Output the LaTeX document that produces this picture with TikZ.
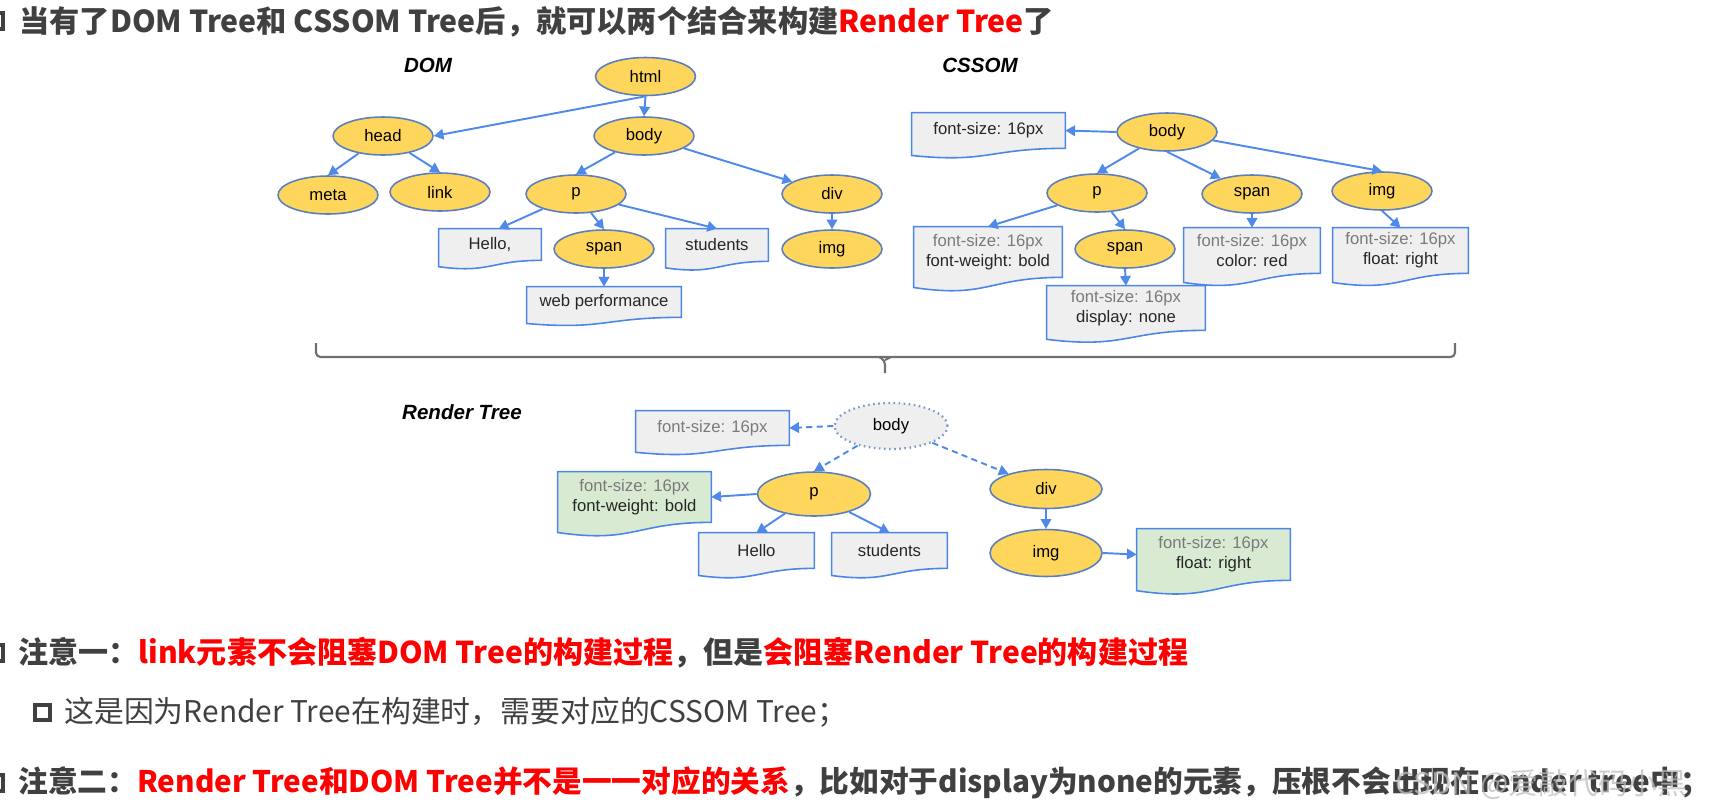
\documentclass[tikz,border=0pt]{standalone}
\usepackage{fontspec}
\newfontfamily\arialf{Liberation Sans}
\newfontfamily\cjkf{Noto Sans CJK SC}
\usetikzlibrary{shapes.geometric,arrows.meta,calc,backgrounds}
\definecolor{ellyellow}{HTML}{FFD65C}
\definecolor{ellborder}{HTML}{5B7FBE}
\definecolor{boxblue}{HTML}{4A86E8}
\definecolor{arrblue}{HTML}{4F8AEA}
\definecolor{boxgray}{HTML}{EFEFEF}
\definecolor{boxgreen}{HTML}{D9EAD3}
\definecolor{graytext}{HTML}{7A7A7A}
\definecolor{darktext}{HTML}{404040}
\definecolor{bracegray}{HTML}{707070}
\definecolor{wmgray}{HTML}{BDBDBD}
\newcommand{\dgmfont}{\arialf\fontsize{9.5}{11.3}\selectfont}
\newcommand{\gl}[1]{\textcolor{graytext}{#1}}
\begin{document}
\begin{tikzpicture}[x=0.02cm,y=-0.02cm,
  ell/.style={ellipse, draw=ellborder, line width=0.9pt, fill=ellyellow,
    minimum width=2cm, minimum height=0.76cm, inner sep=0, font=\dgmfont},
  doc/.style={rectangle, inner sep=0, align=center, font=\dgmfont, text=black!85},
  dsz/.style 2 args={minimum width=#1*0.02cm, minimum height=#2*0.02cm},
  arr/.style={draw=arrblue, line width=1.1pt, -{Triangle[length=5.5pt,width=6pt]}},
  darr/.style={arr, dash pattern=on 3.5pt off 2.5pt},
  lbl/.style={font=\arialf\bfseries\itshape\fontsize{11.7}{14}\selectfont},
  txt/.style={anchor=west, inner sep=0, font=\cjkf\fontsize{17}{20}\selectfont, text=darktext},
  btxt/.style={txt, font=\cjkf\bfseries\fontsize{17}{20}\selectfont},
  docshape/.style={draw=boxblue, line width=0.9pt, fill=#1},
  bracestyle/.style={bracegray, line width=1.2pt, rounded corners=2.5pt}
]
\useasboundingbox (0,0) rectangle (1724,806);

% ---------- title ----------
\draw[darktext, line width=2pt] (-14,13) rectangle (3,29);
\node[btxt, font=\cjkf\bfseries\fontsize{17.2}{20}\selectfont] (title) at (19,22)
  {当有了DOM Tree和 CSSOM Tree后，就可以两个结合来构建\textcolor{red}{Render Tree}了};

% ---------- labels ----------
\node[lbl] (ldom) at (428,65) {DOM};
\node[lbl] (lcssom) at (980,65) {CSSOM};
\node[lbl] (lrender) at (462,412) {Render Tree};

% ---------- DOM ----------
\node[ell] (html) at (645.5,76.5) {html};
\node[ell] (head) at (383,136) {head};
\node[ell] (body) at (644,136) {body};
\node[ell] (meta) at (328,195) {meta};
\node[ell] (link) at (440,192) {link};
\node[ell] (p) at (576,194) {p};
\node[ell] (span) at (604,249) {span};
\node[ell] (div) at (832,194) {div};
\node[ell] (img) at (832,249) {img};
\node[doc, dsz={102}{31}] (hello) at (490,244.5) {Hello,};
\node[doc, dsz={102}{32}] (students) at (717,245) {students};
\node[doc, dsz={154}{30}] (webperf) at (604,302) {web performance};

% ---------- CSSOM ----------
\node[ell] (cbody) at (1167,132) {body};
\node[ell] (cp) at (1097,193) {p};
\node[ell] (cspan) at (1125,249) {span};
\node[ell] (cspan2) at (1252,194) {span};
\node[ell] (cimg) at (1382,191) {img};
\node[doc, dsz={153}{35}] (cfs) at (988.5,130.5) {font-size: 16px};
\node[doc, dsz={148}{50}] (cpbox) at (988,252) {\gl{font-size: 16px}\\font-weight: bold};
\node[doc, dsz={158}{44}] (cdisp) at (1126,308) {\gl{font-size: 16px}\\display: none};
\node[doc, dsz={136}{45}] (ccolor) at (1252,250.5) {\gl{font-size: 16px}\\color: red};
\node[doc, dsz={135}{45}] (cfloat) at (1400.5,250.5) {\gl{font-size: 16px}\\float: right};

% ---------- Render tree ----------
\node[ell, fill=boxgray, draw=ellborder!80, dotted, line width=1.3pt,
  minimum width=2.26cm, minimum height=0.92cm] (rbody) at (891,426) {body};
\node[ell, minimum width=2.26cm, minimum height=0.88cm] (rp) at (814,494) {p};
\node[ell, minimum width=2.24cm, minimum height=0.78cm] (rdiv) at (1046,489) {div};
\node[ell, minimum width=2.24cm, minimum height=0.94cm] (rimg) at (1046,553) {img};
\node[doc, dsz={153}{34}] (rfs) at (712.5,428) {\gl{font-size: 16px}};
\node[doc, dsz={153}{50}] (rgreen) at (634.5,497) {\gl{font-size: 16px}\\font-weight: bold};
\node[doc, dsz={115}{35}] (rhello) at (756.5,550.5) {Hello};
\node[doc, dsz={115}{35}] (rstudents) at (889.5,550.5) {students};
\node[doc, dsz={153}{51}] (rfloat) at (1213.5,554.5) {\gl{font-size: 16px}\\float: right};

% ---------- document shapes (behind text) ----------
\begin{pgfonlayer}{background}
\foreach \nm/\fc in {hello/boxgray, students/boxgray, webperf/boxgray,
  cfs/boxgray, cpbox/boxgray, cdisp/boxgray, ccolor/boxgray, cfloat/boxgray,
  rfs/boxgray, rgreen/boxgreen, rhello/boxgray, rstudents/boxgray, rfloat/boxgreen}{
  \path[docshape=\fc] let \p1=(\nm.north west), \p2=(\nm.south east), \n1={\y1-\y2} in
    (\p1) -- (\x2,\y1) -- (\p2)
    .. controls ({(\x1+\x2)/2},\y2) and ({(\x1+\x2)/2},{\y2-0.42*\n1}) ..
    (\x1,{\y2-0.2*\n1}) -- cycle;
}
\end{pgfonlayer}

% ---------- DOM edges ----------
\draw[arr] (html.south) -- (head.east);
\draw[arr] (html.south) -- (body.north);
\draw[arr] (head) -- (meta.north);
\draw[arr] (head) -- (link.north);
\draw[arr] (body) -- (p.north);
\draw[arr] (body) -- (div);
\draw[arr] (p) -- ([xshift=5pt]hello.north);
\draw[arr] (p) -- (span.north);
\draw[arr] (p) -- (students.north);
\draw[arr] (span.south) -- (webperf.north);
\draw[arr] (div.south) -- (img.north);

% ---------- CSSOM edges ----------
\draw[arr] (cbody.west) -- (cfs.east);
\draw[arr] (cbody) -- (cp.north);
\draw[arr] (cbody.south) -- (cspan2);
\draw[arr] (cbody) -- (cimg.north);
\draw[arr] (cp) -- (cpbox.north);
\draw[arr] (cp) -- (cspan.north);
\draw[arr] (cspan.south) -- (cdisp.north);
\draw[arr] (cspan2.south) -- (ccolor.north);
\draw[arr] (cimg.south) -- (cfloat.north);

% ---------- Render edges ----------
\draw[darr] (rbody.west) -- (rfs.east);
\draw[darr] (rbody) -- (rp.north);
\draw[darr] (rbody) -- (rdiv);
\draw[arr] (rp.west) -- (rgreen.east);
\draw[arr] (rp) -- (rhello.north);
\draw[arr] (rp) -- (rstudents.north);
\draw[arr] (rdiv.south) -- (rimg.north);
\draw[arr] (rimg.east) -- (rfloat.west);

% ---------- brace ----------
\draw[bracestyle] (316,343) -- (316,357) -- (1455,357) -- (1455,343);
\draw[bracestyle] (879,357) -- (885,360) -- (885,373);
\draw[bracestyle] (891,357) -- (885,360);

% ---------- notes ----------
\draw[darktext, line width=2pt] (-14,645) rectangle (3,661);
\node[btxt, font=\cjkf\bfseries\fontsize{17.1}{20}\selectfont] (note1) at (18,653)
  {注意一：\textcolor{red}{link元素不会阻塞DOM Tree的构建过程}，但是\textcolor{red}{会阻塞Render Tree的构建过程}};
\draw[darktext, line width=2.2pt] (35,705) rectangle (50,720);
\node[txt] (note2) at (64,712) {这是因为Render Tree在构建时，需要对应的CSSOM Tree；};
\draw[darktext, line width=2pt] (-14,775) rectangle (3,791);
\node[btxt, font=\cjkf\bfseries\fontsize{16.9}{20}\selectfont] (note3) at (18,783)
  {注意二：\textcolor{red}{Render Tree和DOM Tree并不是一一对应的关系}，比如对于display为none的元素，压根不会出现在render tree中；};
\node[txt, text=wmgray, opacity=0.75] (wm) at (1395,785) {CSDN @爱敲代码小黑};
\end{tikzpicture}
\end{document}
